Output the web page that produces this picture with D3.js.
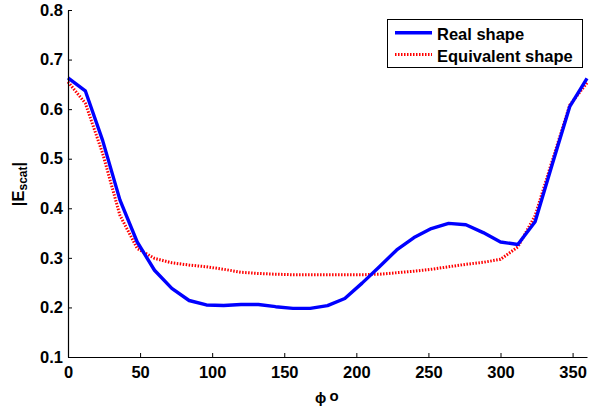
<!DOCTYPE html>
<html><head><meta charset="utf-8">
<script src="https://cdn.jsdelivr.net/npm/d3@7"></script>
<style>
html,body{margin:0;padding:0;background:#fff;}
svg{display:block;}
text{font-family:"Liberation Sans",Arial,Helvetica,sans-serif;font-weight:bold;}
</style></head>
<body><svg id="c" width="590" height="409"></svg>
<script>
const phi = [0,12,24,36,48,60,72,84,96,108,120,132,144,156,168,180,192,204,216,228,240,252,264,276,288,300,312,324,336,348,360];
const realShape = [0.663,0.637,0.537,0.417,0.332,0.275,0.2385,0.214,0.205,0.204,0.206,0.206,0.2015,0.198,0.198,0.2035,0.218,0.249,0.282,0.316,0.341,0.359,0.3695,0.3667,0.351,0.332,0.327,0.373,0.49,0.605,0.662];
const equivShape = [0.655,0.612,0.511,0.386,0.319,0.299,0.29,0.2855,0.282,0.277,0.271,0.2685,0.267,0.266,0.266,0.266,0.266,0.266,0.267,0.27,0.273,0.277,0.282,0.287,0.291,0.297,0.322,0.385,0.497,0.608,0.653];
const xTicks = [0,50,100,150,200,250,300,350];
const yTicks = [0.1,0.2,0.3,0.4,0.5,0.6,0.7,0.8];
const seriesNames = ["Real shape","Equivalent shape"];

const svg = d3.select("#c");
const L = 68, R = 587, T = 10, B = 357;
const x = d3.scaleLinear().domain([0,360]).range([L,R]);
const y = d3.scaleLinear().domain([0.1,0.8]).range([B,T]);

const line = d3.line().x((d,i)=>x(phi[i])).y(d=>y(d));

svg.append("path").datum(equivShape).attr("d",line)
  .attr("fill","none").attr("stroke","#ff0000").attr("stroke-width",3)
  .attr("stroke-dasharray","1.5,1.5");
svg.append("path").datum(realShape).attr("d",line)
  .attr("fill","none").attr("stroke","#0000ff").attr("stroke-width",3.4)
  .attr("stroke-linejoin","round");

const xa = svg.append("g").attr("transform",`translate(0,${B})`)
  .call(d3.axisBottom(x).tickValues(xTicks).tickSizeInner(-4).tickSizeOuter(0).tickPadding(9).tickFormat(d3.format("d")));
const ya = svg.append("g").attr("transform",`translate(${L},0)`)
  .call(d3.axisLeft(y).tickValues(yTicks).tickSizeInner(-4).tickSizeOuter(0).tickPadding(5).tickFormat(d3.format(".1f")));
[xa,ya].forEach(a=>{
  a.selectAll("text").attr("font-size","16.5px").attr("fill","#000")
   .attr("font-family","'Liberation Sans',Arial,sans-serif").attr("font-weight","bold");
  a.select(".domain").attr("stroke","#000").attr("stroke-width",1.2);
  a.selectAll(".tick line").attr("stroke","#000");
});

// axis labels
const yl = svg.append("text").attr("transform","translate(24,184) rotate(-90)")
  .attr("text-anchor","middle").attr("font-size","16.5px").attr("fill","#000");
yl.append("tspan").text("|E");
yl.append("tspan").attr("font-size","12px").attr("dy","3").text("scat");
yl.append("tspan").attr("dy","-3").text("|");

svg.append("text").attr("x",315).attr("y",403).attr("font-size","15px").attr("fill","#000")
  .text("\u03D5");
svg.append("text").attr("x",329.5).attr("y",401).attr("font-size","15px").attr("fill","#000")
  .text("o");

// legend
const lg = svg.append("g");
lg.append("rect").attr("x",387.5).attr("y",19.5).attr("width",195).attr("height",48)
  .attr("fill","#fff").attr("stroke","#000").attr("stroke-width",1);
const styles = [{c:"#0000ff",d:null,w:3.4},{c:"#ff0000",d:"1.5,1.5",w:3}];
seriesNames.forEach((n,i)=>{
  const cy = 32.7 + i*21.8;
  const l = lg.append("line").attr("x1",395).attr("x2",432).attr("y1",cy).attr("y2",cy)
    .attr("stroke",styles[i].c).attr("stroke-width",styles[i].w);
  if(styles[i].d) l.attr("stroke-dasharray",styles[i].d);
  lg.append("text").attr("x",437).attr("y",cy+7.5).attr("font-size","16.5px").attr("fill","#000").text(n);
});
</script></body></html>
